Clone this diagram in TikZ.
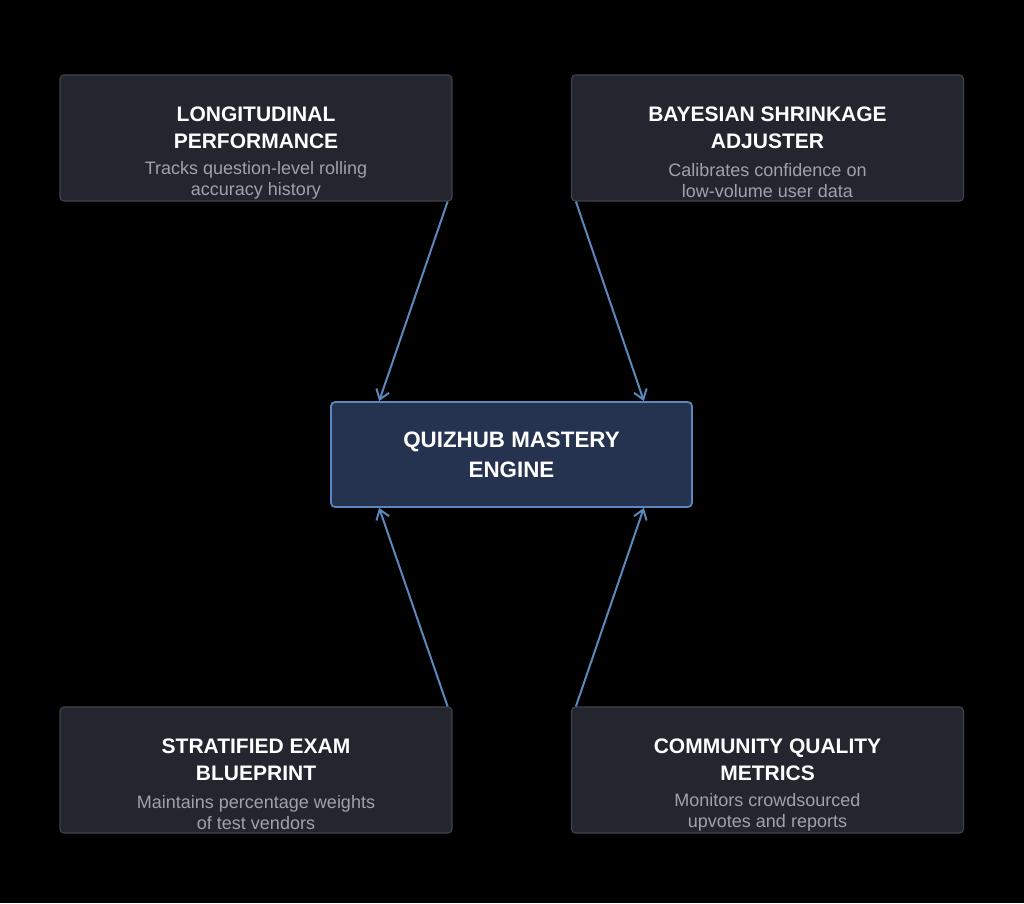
\documentclass[tikz,border=0pt]{standalone}
\usepackage{fontspec}
\setmainfont{Liberation Sans}
\usetikzlibrary{arrows.meta, positioning}

\definecolor{cardfill}{HTML}{23262E}
\definecolor{cardline}{HTML}{3D424C}
\definecolor{corefill}{HTML}{263350}
\definecolor{coreline}{HTML}{5A88BF}
\definecolor{flowline}{HTML}{5B88BB}
\definecolor{desctext}{HTML}{9EA3AB}

\begin{document}
\begin{tikzpicture}[
  x=0.75pt, y=-0.75pt,
  card/.style={
    rectangle, rounded corners=3pt,
    draw=cardline, fill=cardfill, line width=0.9pt,
    minimum width=294pt, minimum height=94.5pt
  },
  core/.style={
    rectangle, rounded corners=3pt,
    draw=coreline, fill=corefill, line width=1.3pt,
    minimum width=270.75pt, minimum height=78.75pt
  },
  title/.style={
    align=center, text=white, inner sep=0pt,
    font=\fontsize{15.75}{20.25}\selectfont\bfseries
  },
  coretitle/.style={
    align=center, text=white, inner sep=0pt,
    font=\fontsize{16.75}{22.5}\selectfont\bfseries
  },
  desc/.style={
    align=center, text=desctext, inner sep=0pt,
    font=\fontsize{13.5}{15.75}\selectfont
  },
  flow/.style={-{Straight Barb[length=7pt, width=10pt]}, draw=flowline, line width=1.5pt}
]

% fond
\fill[black] (0,0) rectangle (1024,903);

% Cartes du haut
\node[card] (lp) at (256,138) {};
\node[title] (lp-t) at ([yshift=7.9pt]lp.center) {LONGITUDINAL\\PERFORMANCE};
\node[desc] (lp-d) at ([yshift=-31.9pt]lp.center) {Tracks question-level rolling\\accuracy history};

\node[card] (bs) at (767.5,138) {};
\node[title] (bs-t) at ([yshift=7.9pt]bs.center) {BAYESIAN SHRINKAGE\\ADJUSTER};
\node[desc] (bs-d) at ([yshift=-31.9pt]bs.center) {Calibrates confidence on\\low-volume user data};

% Moteur central
\node[core] (qe) at (511.5,454.5) {};
\node[coretitle] (qe-t) at (qe.center) {QUIZHUB MASTERY\\ENGINE};

% Cartes du bas
\node[card] (se) at (256,770) {};
\node[title] (se-t) at ([yshift=7.9pt]se.center) {STRATIFIED EXAM\\BLUEPRINT};
\node[desc] (se-d) at ([yshift=-31.9pt]se.center) {Maintains percentage weights\\of test vendors};

\node[card] (cq) at (767.5,770) {};
\node[title] (cq-t) at ([yshift=7.9pt]cq.center) {COMMUNITY QUALITY\\METRICS};
\node[desc] (cq-d) at ([yshift=-31.9pt]cq.center) {Monitors crowdsourced\\upvotes and reports};

% Flèches vers le moteur
\draw[flow] ([xshift=-3.75pt]lp.south east) -- ([xshift=36.75pt]qe.north west);
\draw[flow] ([xshift=3.75pt]bs.south west) -- ([xshift=-36.75pt]qe.north east);
\draw[flow] ([xshift=-3.75pt]se.north east) -- ([xshift=36.75pt]qe.south west);
\draw[flow] ([xshift=3.75pt]cq.north west) -- ([xshift=-36.75pt]qe.south east);

\end{tikzpicture}
\end{document}
